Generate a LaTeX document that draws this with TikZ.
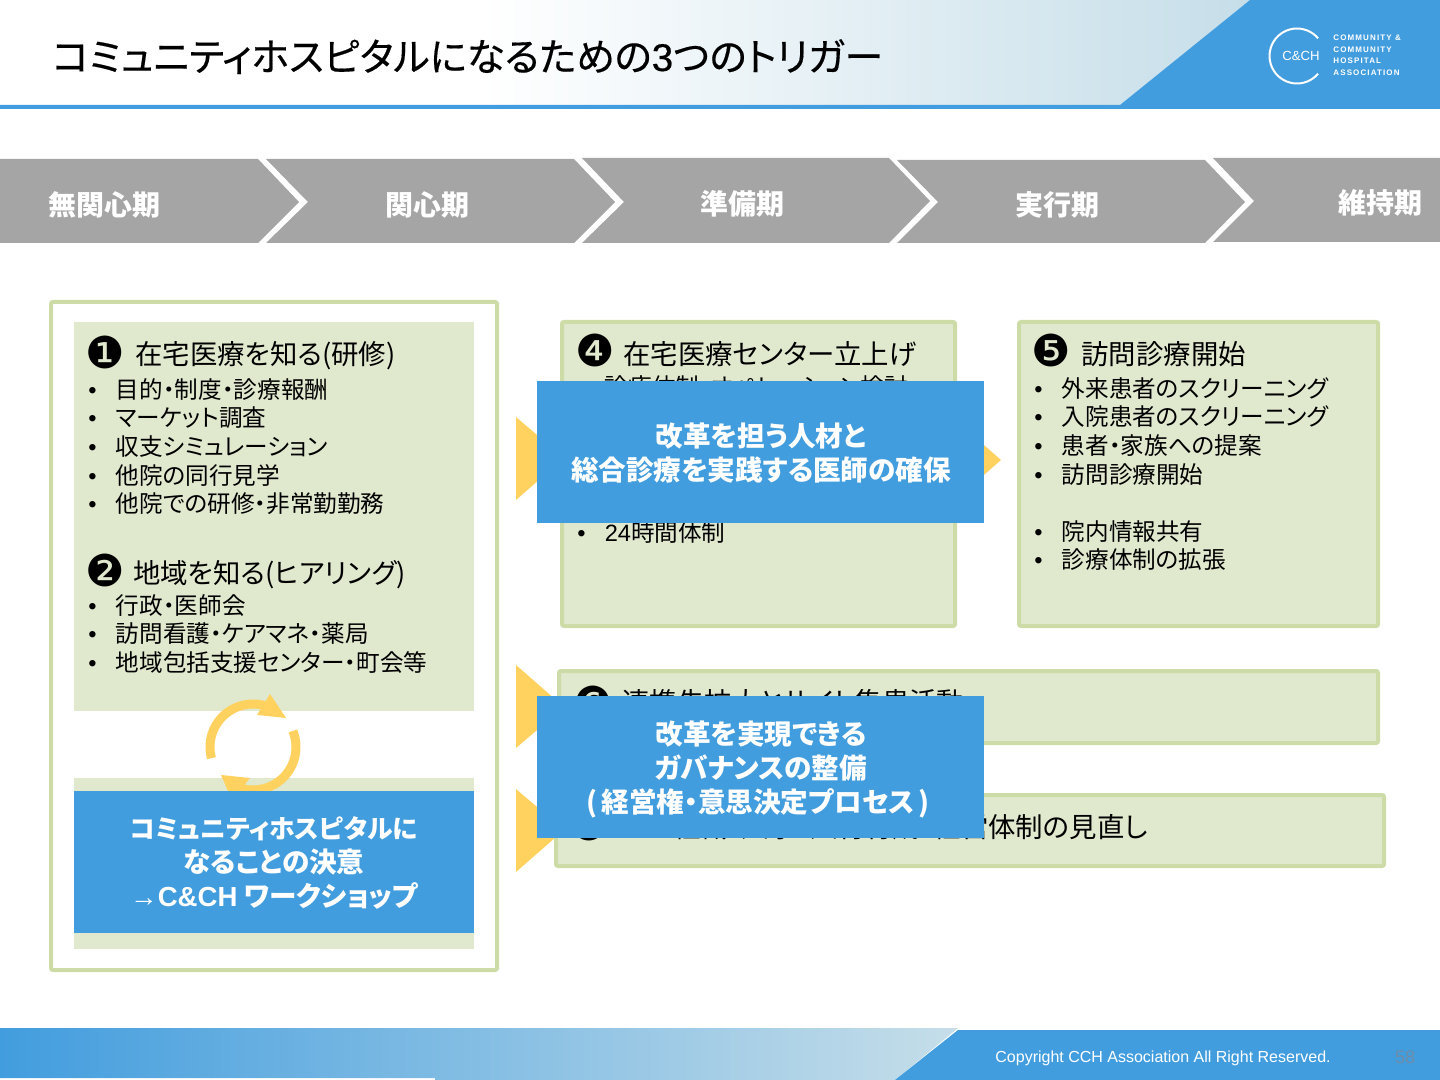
\documentclass[tikz,border=0pt]{standalone}
\usepackage{fontspec}
\setmainfont{Noto Sans CJK JP}[RawFeature=+palt]
\newfontfamily\latinfont{Liberation Sans}
\newfontfamily\dingfont{DejaVu Sans}
\usetikzlibrary{positioning}
\definecolor{cchblue}{HTML}{429DDE}
\definecolor{paleblue}{HTML}{C6DEE9}
\definecolor{sagefill}{HTML}{E0E8CE}
\definecolor{sageline}{HTML}{CDDCA6}
\definecolor{sunyellow}{HTML}{FFD25F}
\definecolor{phasegray}{HTML}{A5A5A5}
\definecolor{pagegray}{HTML}{6E8CA6}
\newcommand{\bul}{\makebox[13.7pt][l]{\latinfont •}}

\begin{document}
\begin{tikzpicture}[
  x=0.5pt, y=-0.5pt,
  phasebar/.style={fill=phasegray, draw=none},
  phaselabel/.style={text=white, inner sep=0pt, font=\fontsize{14}{16}\bfseries\selectfont},
  sagebox/.style={fill=sagefill, draw=sageline, line width=2pt, rounded corners=1pt},
  sagefield/.style={fill=sagefill, draw=none},
  bluebox/.style={fill=cchblue, draw=none},
  bluetext/.style={text=white, align=center, inner sep=0pt,
             font=\fontsize{13.8}{17}\bfseries\selectfont},
  headtext/.style={anchor=base west, inner sep=0pt, font=\fontsize{13.7}{16}\selectfont},
  listtext/.style={anchor=north west, align=left, inner sep=0pt, font=\fontsize{11.8}{14.3}\selectfont},
  numbermark/.style={inner sep=0pt, font=\fontsize{22}{22}\dingfont},
  stepmark/.style={fill=sunyellow, draw=none},
  cycleline/.style={draw=sunyellow, line width=4.5pt}
]
\useasboundingbox (0,0) rectangle (1440,1080);

% header band
\shade[left color=white, right color=paleblue] (480,0) -- (1250,0) -- (1120,105) -- (480,105) -- cycle;
\fill[cchblue] (1250,0) -- (1440,0) -- (1440,109) -- (0,109) -- (0,105) -- (1120,105) -- cycle;
\node[anchor=base west, inner sep=0pt, font=\fontsize{19.3}{22}\selectfont\addfontfeature{FakeBold=0.4}] (title) at (52,71)
  {コミュニティホスピタルになるための{\latinfont\addfontfeature{FakeBold=0.4}3}つのトリガー};

% logo
\draw[white, line width=1pt] plot[domain=40:320, samples=40] ({1297+27.5*cos(\x)},{56+27.5*sin(\x)});
\node[text=white, inner sep=0pt, font=\fontsize{6.6}{8}\latinfont] (logomark) at (1301,56) {C\&CH};
\node[anchor=north west, align=left, text=white, inner sep=0pt,
      font=\fontsize{4}{5.75}\latinfont\bfseries\addfontfeature{LetterSpace=14}] (logotext) at (1333,35)
  {COMMUNITY \&\\COMMUNITY\\HOSPITAL\\ASSOCIATION};

% phase bar
\fill[phasebar] (0,159) -- (258,159) -- (299,202) -- (258,243) -- (0,243) -- cycle;
\fill[phasebar] (266,159) -- (574,159) -- (615,202) -- (574,243) -- (266,243) -- (308,202) -- cycle;
\fill[phasebar] (582,158) -- (889,158) -- (930,201) -- (889,243) -- (582,243) -- (624,202) -- cycle;
\fill[phasebar] (897,160) -- (1205,160) -- (1245,202) -- (1205,243) -- (897,243) -- (938,202) -- cycle;
\fill[phasebar] (1213,158) -- (1440,158) -- (1440,242) -- (1213,242) -- (1254,201) -- cycle;
\node[phaselabel] (phaseA) at (104,205) {無関心期};
\node[phaselabel] (phaseB) at (427,205) {関心期};
\node[phaselabel] (phaseC) at (742,204) {準備期};
\node[phaselabel] (phaseD) at (1057,205) {実行期};
\node[phaselabel] (phaseE) at (1380,203) {維持期};

% left column
\draw[sagebox, fill=white] (51,302) rectangle (497,970);
\fill[sagefield] (74,322) rectangle (474,711);
\fill[sagefield] (74,778) rectangle (474,949);

\node[numbermark] (markA) at (105,352) {❶};
\node[headtext] (headA) at (135,365) {在宅医療を知る(研修)};
\node[listtext] (listA) at (88,378)
  {\bul 目的・制度・診療報酬\\\bul マーケット調査\\\bul 収支シミュレーション\\\bul 他院の同行見学\\\bul 他院での研修・非常勤勤務};
\node[numbermark] (markB) at (105,570) {❷};
\node[headtext] (headB) at (133,583) {地域を知る(ヒアリング)};
\node[listtext] (listB) at (88,594)
  {\bul 行政・医師会\\\bul 訪問看護・ケアマネ・薬局\\\bul 地域包括支援センター・町会等};

% cycle arrows
\draw[cycleline] plot[domain=165:290, samples=30] ({253+43*cos(\x)},{747+43*sin(\x)});
\fill[stepmark] (270,694) -- (286,718) -- (257,715) -- cycle;
\draw[cycleline] plot[domain=-22:112, samples=30] ({253+43*cos(\x)},{747+43*sin(\x)});
\fill[stepmark] (221,775) -- (250,778) -- (232,800) -- cycle;

\fill[bluebox] (74,791) rectangle (474,933);
\node[bluetext] (decision) at (274,863)
  {{\fontsize{12.9}{17}\bfseries\selectfont コミュニティホスピタルに}\\なることの決意\\{\latinfont\mdseries →}{\latinfont\bfseries C\&CH} ワークショップ};

% step marks
\fill[stepmark] (516,417) -- (564,458) -- (516,500) -- cycle;
\fill[stepmark] (516,665) -- (564,707) -- (516,748) -- cycle;
\fill[stepmark] (516,789) -- (564,830) -- (516,872) -- cycle;

% right boxes
\draw[sagebox] (562,322) rectangle (955,626);
\draw[sagebox] (1019,322) rectangle (1378,626);
\draw[sagebox] (559,671) rectangle (1378,743);
\draw[sagebox] (556,795) rectangle (1384,866);
\fill[stepmark] (953,418) -- (1001,460) -- (953,502) -- cycle;

\node[numbermark] (markD) at (595,350) {❹};
\node[headtext] (headD) at (623,365) {在宅医療センター立上げ};
\node[listtext] (listD) at (577,375) {\bul 診療体制・オペレーション検討};
\node[listtext] (listDD) at (577,521) {\bul {\latinfont 24}時間体制};

\node[numbermark] (markE) at (1051,350) {❺};
\node[headtext] (headE) at (1081,365) {訪問診療開始};
\node[listtext] (listE) at (1034,377)
  {\bul 外来患者のスクリーニング\\\bul 入院患者のスクリーニング\\\bul 患者・家族への提案\\\bul 訪問診療開始\\[14.3pt]\bul 院内情報共有\\\bul 診療体制の拡張};

\node[numbermark] (markF) at (593,702) {❻};
\node[headtext] (headF) at (622,712) {連携先拡大とサイト集患活動};
\node[numbermark] (markG) at (589,824) {❼};
\node[headtext, anchor=base east] (headG) at (1148,837) {組織・人事・人材育成・経営体制の見直し};

% trigger boxes
\fill[bluebox] (537,381) rectangle (984,523);
\node[bluetext] (triggerA) at (761,453) {改革を担う人材と\\総合診療を実践する医師の確保};
\fill[bluebox] (537,696) rectangle (984,838);
\node[bluetext] (triggerB) at (761,770) {改革を実現できる\\ガバナンスの整備\\\hspace{-3pt}(\hspace{2pt}経営権・意思決定プロセス\hspace{2pt})};

% footer band
\shade[left color=cchblue, right color=paleblue] (0,1028) -- (958,1028) -- (895,1080) -- (435,1080) -- (435,1078) -- (0,1078) -- cycle;
\fill[cchblue] (958,1030) -- (1440,1030) -- (1440,1080) -- (895,1080) -- cycle;
\node[anchor=base west, text=white, inner sep=0pt, font=\fontsize{8}{10}\latinfont] (copyright) at (995,1062)
  {Copyright CCH Association All Right Reserved.};
\node[text=pagegray, inner sep=0pt, font=\fontsize{9}{10}\latinfont] (pageno) at (1405,1057) {58};

\end{tikzpicture}
\end{document}
